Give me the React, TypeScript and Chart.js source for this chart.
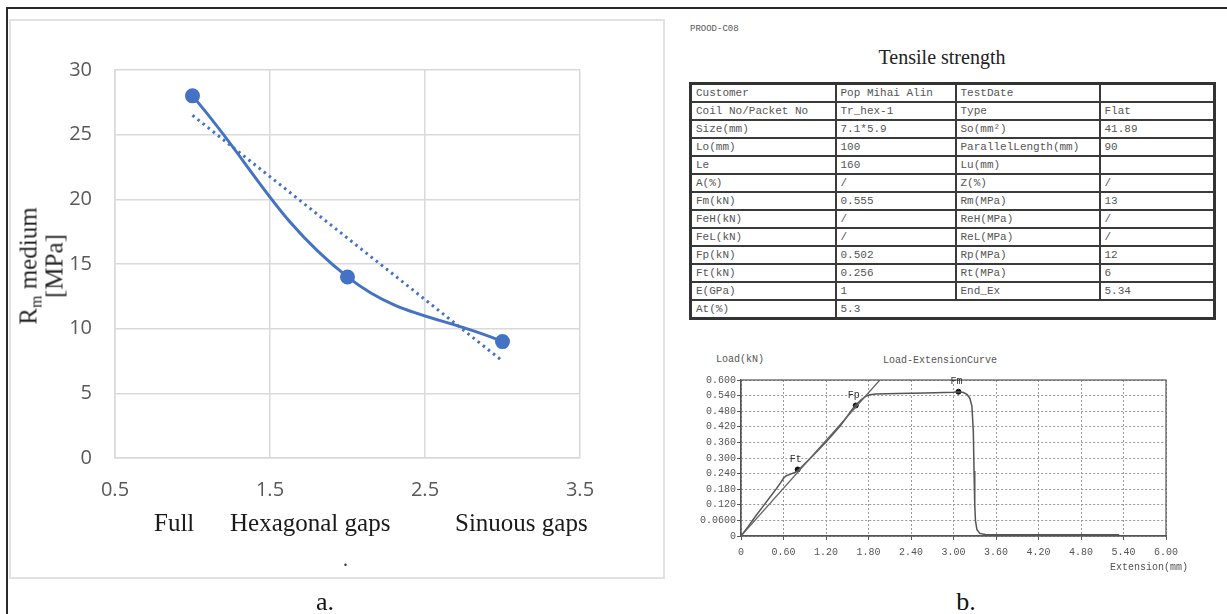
import React, { useEffect, useRef } from "react";
import { Chart, registerables } from "chart.js";

Chart.register(...registerables);

// ---------- Panel a: Rm medium ----------
const categories = ["Full", "Hexagonal gaps", "Sinuous gaps"];
const categoryX = [1, 2, 3];
const rmMedium = [28, 14, 9];
const trendX = [1, 3];
const trendY = [26.5, 7.5];
const xTicksA = [0.5, 1.5, 2.5, 3.5];
const yTicksA = [0, 5, 10, 15, 20, 25, 30];

// ---------- Panel b: Load-Extension curve ----------
const extension = [
  0, 0.1, 0.2, 0.3, 0.4, 0.5, 0.56, 0.6, 0.64, 0.7, 0.76, 0.82, 0.9, 1.0, 1.2, 1.4, 1.6, 1.7, 1.76, 1.82,
  1.9, 2.2, 2.6, 3.0, 3.07, 3.14, 3.19, 3.23, 3.26, 3.28, 3.29, 3.3, 3.31, 3.33, 3.37, 3.45, 4.0, 5.34,
];
const load = [
  0, 0.036, 0.074, 0.11, 0.146, 0.182, 0.205, 0.222, 0.232, 0.238, 0.244, 0.256, 0.278, 0.305, 0.362, 0.423,
  0.498, 0.525, 0.537, 0.543, 0.546, 0.548, 0.55, 0.553, 0.555, 0.552, 0.545, 0.53, 0.5, 0.4, 0.25, 0.12, 0.06,
  0.025, 0.01, 0.006, 0.005, 0.005,
];
const elasticExt = [0, 1.96];
const elasticLoad = [0, 0.6];
const markerNames = ["Ft", "Fp", "Fm"];
const markerExt = [0.8, 1.62, 3.07];
const markerLoad = [0.256, 0.502, 0.555];
const loadTicks = [0, 0.06, 0.12, 0.18, 0.24, 0.3, 0.36, 0.42, 0.48, 0.54, 0.6];
const loadTickLabels = ["0", "0.0600", "0.120", "0.180", "0.240", "0.300", "0.360", "0.420", "0.480", "0.540", "0.600"];
const extTicks = [0, 0.6, 1.2, 1.8, 2.4, 3.0, 3.6, 4.2, 4.8, 5.4, 6.0];
const extTickLabels = ["0", "0.60", "1.20", "1.80", "2.40", "3.00", "3.60", "4.20", "4.80", "5.40", "6.00"];

// ---------- Report table ----------
const tableCol1 = ["Customer", "Coil No/Packet No", "Size(mm)", "Lo(mm)", "Le", "A(%)", "Fm(kN)", "FeH(kN)", "FeL(kN)", "Fp(kN)", "Ft(kN)", "E(GPa)", "At(%)"];
const tableCol2 = ["Pop Mihai Alin", "Tr_hex-1", "7.1*5.9", "100", "160", "/", "0.555", "/", "/", "0.502", "0.256", "1", "5.3"];
const tableCol3 = ["TestDate", "Type", "So(mm²)", "ParallelLength(mm)", "Lu(mm)", "Z(%)", "Rm(MPa)", "ReH(MPa)", "ReL(MPa)", "Rp(MPa)", "Rt(MPa)", "End_Ex", ""];
const tableCol4 = ["", "Flat", "41.89", "90", "", "/", "13", "/", "/", "12", "6", "5.34", ""];

const catLeft = [154, 230, 455];
const monoFont = "'Liberation Mono', 'DejaVu Sans Mono', monospace";
const serifFont = "'Liberation Serif', 'DejaVu Serif', serif";

const markerLabelPlugin = {
  id: "markerLabels",
  afterDatasetsDraw(chart: any) {
    const { ctx, chartArea: a, scales } = chart;
    ctx.save();
    ctx.strokeStyle = "#555";
    ctx.lineWidth = 1.2;
    ctx.strokeRect(a.left, a.top, a.right - a.left, a.bottom - a.top);
    ctx.fillStyle = "#333";
    ctx.font = "10px " + monoFont;
    ctx.textAlign = "center";
    ctx.textBaseline = "bottom";
    markerNames.forEach((n, i) => {
      ctx.fillText(n, scales.x.getPixelForValue(markerExt[i]) - 2, scales.y.getPixelForValue(markerLoad[i]) - 5);
    });
    ctx.restore();
  },
};

export default function App() {
  const refA = useRef<HTMLCanvasElement>(null);
  const refB = useRef<HTMLCanvasElement>(null);

  useEffect(() => {
    document.body.style.margin = "0";
    const tickFontA = { family: "'Open Sans', 'Liberation Sans', sans-serif", size: 20 };
    const chartA = new Chart(refA.current as HTMLCanvasElement, {
      type: "scatter",
      data: {
        datasets: [
          {
            data: trendX.map((x, i) => ({ x, y: trendY[i] })),
            showLine: true,
            borderColor: "#4472C4",
            borderWidth: 3,
            borderDash: [2.5, 4],
            pointRadius: 0,
          },
          {
            data: categoryX.map((x, i) => ({ x, y: rmMedium[i] })),
            showLine: true,
            tension: 0.4,
            borderColor: "#4472C4",
            borderWidth: 3,
            pointRadius: 6,
            pointBackgroundColor: "#4472C4",
            pointBorderColor: "#4472C4",
          },
        ],
      },
      options: {
        responsive: false,
        animation: false,
        layout: { padding: { left: 0, top: 70, right: 100, bottom: 0 } },
        plugins: { legend: { display: false }, tooltip: { enabled: false } },
        scales: {
          x: {
            type: "linear",
            min: 0.5,
            max: 3.5,
            afterBuildTicks: (s: any) => {
              s.ticks = xTicksA.map((v) => ({ value: v }));
            },
            afterFit: (s: any) => {
              s.height = 156;
            },
            ticks: { color: "#595959", font: tickFontA, padding: 20 },
            grid: { color: "#d9d9d9", lineWidth: 1.5, drawTicks: false },
            border: { color: "#d9d9d9", width: 1.5 },
          },
          y: {
            min: 0,
            max: 30,
            afterBuildTicks: (s: any) => {
              s.ticks = yTicksA.map((v) => ({ value: v }));
            },
            afterFit: (s: any) => {
              s.width = 115;
            },
            ticks: { color: "#595959", font: tickFontA, padding: 23 },
            grid: { color: "#d9d9d9", lineWidth: 1.5, drawTicks: false },
            border: { color: "#d9d9d9", width: 1.5 },
          },
        },
      },
    } as any);

    const tickFontB = { family: monoFont, size: 10 };
    const chartB = new Chart(refB.current as HTMLCanvasElement, {
      type: "scatter",
      data: {
        datasets: [
          {
            data: elasticExt.map((x, i) => ({ x, y: elasticLoad[i] })),
            showLine: true,
            borderColor: "#666",
            borderWidth: 1.3,
            pointRadius: 0,
          },
          {
            data: extension.map((x, i) => ({ x, y: load[i] })),
            showLine: true,
            borderColor: "#555",
            borderWidth: 1.5,
            pointRadius: 0,
          },
          {
            data: markerExt.map((x, i) => ({ x, y: markerLoad[i] })),
            showLine: false,
            pointRadius: 2.5,
            pointBackgroundColor: "#111",
            pointBorderColor: "#111",
          },
        ],
      },
      options: {
        responsive: false,
        animation: false,
        layout: { padding: { left: 0, top: 50, right: 61, bottom: 0 } },
        plugins: { legend: { display: false }, tooltip: { enabled: false } },
        scales: {
          x: {
            type: "linear",
            min: 0,
            max: 6,
            afterBuildTicks: (s: any) => {
              s.ticks = extTicks.map((v) => ({ value: v }));
            },
            afterFit: (s: any) => {
              s.height = 64;
            },
            ticks: {
              color: "#555",
              font: tickFontB,
              padding: 6,
              maxRotation: 0,
              autoSkip: false,
              callback: (_v: any, i: number) => extTickLabels[i],
            },
            grid: { color: "#999", lineWidth: 1, tickLength: 4, tickColor: "#555", tickBorderDash: [] },
            border: { color: "#555", width: 1.2, dash: [2, 2] },
          },
          y: {
            min: 0,
            max: 0.6,
            afterBuildTicks: (s: any) => {
              s.ticks = loadTicks.map((v) => ({ value: v }));
            },
            afterFit: (s: any) => {
              s.width = 61;
            },
            ticks: {
              color: "#555",
              font: tickFontB,
              padding: 1,
              autoSkip: false,
              callback: (_v: any, i: number) => loadTickLabels[i],
            },
            grid: { color: "#999", lineWidth: 1, tickLength: 4, tickColor: "#555", tickBorderDash: [] },
            border: { color: "#555", width: 1.2, dash: [2, 2] },
          },
        },
      },
      plugins: [markerLabelPlugin],
    } as any);

    return () => {
      chartA.destroy();
      chartB.destroy();
    };
  }, []);

  const cell: React.CSSProperties = {
    border: "2px solid #3a3a3a",
    padding: "0 0 0 4px",
    height: 16,
    lineHeight: "16px",
    whiteSpace: "nowrap",
    overflow: "hidden",
    fontFamily: monoFont,
    fontSize: 11,
    color: "#555",
  };

  return (
    <div style={{ position: "absolute", left: 0, top: 0, width: 1227, height: 614, background: "#fff", overflow: "hidden" }}>
      {/* outer frame lines */}
      <div style={{ position: "absolute", left: 6, top: 7, width: 1221, height: 2, background: "#2a2a2a" }} />
      <div style={{ position: "absolute", left: 6, top: 7, width: 2, height: 607, background: "#2a2a2a" }} />
      {/* panel a light frame */}
      <div style={{ position: "absolute", left: 9, top: 19, width: 652, height: 556, border: "2px solid #e2e2e2" }} />

      <canvas ref={refA} width={680} height={614} style={{ position: "absolute", left: 0, top: 0 }} />

      {/* y axis title */}
      <div
        style={{
          position: "absolute",
          left: 41,
          top: 266,
          transform: "translate(-50%, -50%) rotate(-90deg)",
          textAlign: "center",
          whiteSpace: "nowrap",
          fontFamily: serifFont,
          fontSize: 25,
          lineHeight: "23px",
          color: "#262626",
        }}
      >
        R<span style={{ fontSize: 16, position: "relative", top: 5 }}>m</span> medium
        <br />
        [MPa]
      </div>

      {categories.map((c, i) => (
        <div
          key={c}
          style={{
            position: "absolute",
            left: catLeft[i],
            top: 523,
            transform: "translateY(-50%)",
            whiteSpace: "nowrap",
            fontFamily: serifFont,
            fontSize: 25,
            color: "#1a1a1a",
          }}
        >
          {c}
        </div>
      ))}
      <div style={{ position: "absolute", left: 343, top: 548, fontFamily: serifFont, fontSize: 20, color: "#333" }}>.</div>

      <div style={{ position: "absolute", left: 325, top: 602, transform: "translate(-50%, -50%)", fontFamily: serifFont, fontSize: 26, color: "#111" }}>a.</div>
      <div style={{ position: "absolute", left: 966, top: 602, transform: "translate(-50%, -50%)", fontFamily: serifFont, fontSize: 26, color: "#111" }}>b.</div>

      {/* panel b header */}
      <div style={{ position: "absolute", left: 690, top: 24, fontFamily: monoFont, fontSize: 9, color: "#555" }}>PROOD-C08</div>
      <div style={{ position: "absolute", left: 942, top: 57, transform: "translate(-50%, -50%)", fontFamily: serifFont, fontSize: 20, color: "#222", whiteSpace: "nowrap" }}>
        Tensile strength
      </div>

      <table
        style={{
          position: "absolute",
          left: 689,
          top: 82,
          width: 524,
          borderCollapse: "collapse",
          tableLayout: "fixed",
          border: "3px solid #333",
        }}
      >
        <colgroup>
          <col style={{ width: 145 }} />
          <col style={{ width: 120 }} />
          <col style={{ width: 144 }} />
          <col style={{ width: 115 }} />
        </colgroup>
        <tbody>
          {tableCol1.map((c1, i) => (
            <tr key={i}>
              <td style={cell}>{c1}</td>
              {i === tableCol1.length - 1 ? (
                <td style={cell} colSpan={3}>
                  {tableCol2[i]}
                </td>
              ) : (
                <>
                  <td style={cell}>{tableCol2[i]}</td>
                  <td style={cell}>{tableCol3[i]}</td>
                  <td style={cell}>{tableCol4[i]}</td>
                </>
              )}
            </tr>
          ))}
        </tbody>
      </table>

      {/* load-extension chart */}
      <div style={{ position: "absolute", left: 716, top: 354, fontFamily: monoFont, fontSize: 10, color: "#555" }}>Load(kN)</div>
      <div style={{ position: "absolute", left: 940, top: 360, transform: "translate(-50%, -50%)", fontFamily: monoFont, fontSize: 10, color: "#555", whiteSpace: "nowrap" }}>
        Load-ExtensionCurve
      </div>
      <canvas ref={refB} width={547} height={270} style={{ position: "absolute", left: 680, top: 330 }} />
      <div style={{ position: "absolute", right: 1227 - 1188, top: 562, fontFamily: monoFont, fontSize: 10, color: "#555" }}>Extension(mm)</div>
    </div>
  );
}
